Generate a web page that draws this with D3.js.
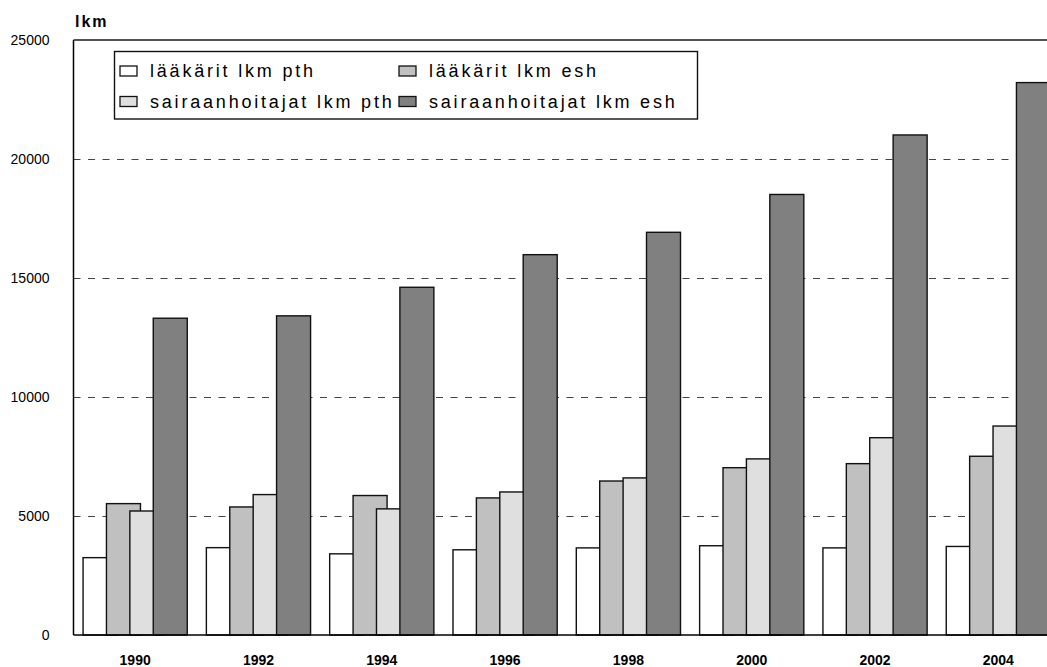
<!DOCTYPE html>
<html>
<head>
<meta charset="utf-8">
<script src="https://cdn.jsdelivr.net/npm/d3@7"></script>
<style>
  body { margin: 0; background: #fff; }
  svg { display: block; font-family: "Liberation Sans", Arial, sans-serif; }
</style>
</head>
<body>
<div id="chart"></div>
<script>
// Data
const years = ['1990', '1992', '1994', '1996', '1998', '2000', '2002', '2004']
const seriesNames = ['lääkärit lkm pth', 'lääkärit lkm esh', 'sairaanhoitajat lkm pth', 'sairaanhoitajat lkm esh']
const laakaritPth = [3250, 3670, 3410, 3580, 3660, 3750, 3660, 3720]
const laakaritEsh = [5520, 5380, 5860, 5760, 6470, 7030, 7200, 7510]
const sairaanhoitajatPth = [5210, 5900, 5300, 6010, 6600, 7400, 8290, 8780]
const sairaanhoitajatEsh = [13310, 13410, 14610, 15980, 16920, 18510, 21010, 23210]
const yTicks = [0, 5000, 10000, 15000, 20000, 25000]

const seriesValues = [laakaritPth, laakaritEsh, sairaanhoitajatPth, sairaanhoitajatEsh]
const colors = ['#ffffff', '#c0c0c0', '#dfdfdf', '#808080']

// Dimensions
const dims = { width: 1047, height: 667, left: 73.5, top: 40, bottom: 635, right: 1060 }

const svg = d3.select('#chart')
  .append('svg')
  .attr('width', dims.width)
  .attr('height', dims.height)

// Scales
const xScale = d3.scaleBand()
  .domain(years)
  .range([dims.left, dims.right])
  .paddingInner(0.155)
  .paddingOuter(0.0775)

const yScale = d3.scaleLinear()
  .domain([0, 25000])
  .range([dims.bottom, dims.top])

const bw = xScale.bandwidth()
const barW = bw * 0.3263
const subScale = d3.scaleLinear().domain([0, 3]).range([0, bw - barW])

// grid lines
svg.append('g')
  .selectAll('line')
  .data(yTicks.filter(d => d > 0 && d < 25000))
  .join('line')
  .attr('x1', dims.left)
  .attr('x2', dims.right)
  .attr('y1', d => Math.round(yScale(d)) + 0.5)
  .attr('y2', d => Math.round(yScale(d)) + 0.5)
  .attr('stroke', '#444')
  .attr('stroke-width', 1)
  .attr('stroke-dasharray', '7,7.5')

// top line (25000)
svg.append('line')
  .attr('x1', dims.left)
  .attr('x2', dims.right)
  .attr('y1', yScale(25000))
  .attr('y2', yScale(25000))
  .attr('stroke', '#1a1a1a')
  .attr('stroke-width', 1.6)

// bars, series by series so later ones sit in front
seriesValues.forEach((vals, si) => {
  svg.append('g')
    .selectAll('rect')
    .data(vals.map((v, i) => ({ year: years[i], value: v })))
    .join('rect')
    .attr('x', d => xScale(d.year) + subScale(si))
    .attr('y', d => yScale(d.value))
    .attr('width', barW)
    .attr('height', d => yScale(0) - yScale(d.value))
    .attr('fill', colors[si])
    .attr('stroke', '#111')
    .attr('stroke-width', 1.4)
})

// axes
const yAxis = d3.axisLeft(yScale)
  .tickValues(yTicks)
  .tickFormat(d3.format('d'))
  .tickSize(0)
  .tickPadding(24)
svg.append('g')
  .attr('transform', `translate(${dims.left}, 0)`)
  .call(yAxis)
  .call(g => g.select('.domain').remove())
  .selectAll('text')
  .attr('font-size', 14)
  .attr('font-family', '"Liberation Sans", Arial, sans-serif')
  .attr('fill', '#000')

const xAxis = d3.axisBottom(xScale).tickSize(0).tickPadding(20)
svg.append('g')
  .attr('transform', `translate(0, ${dims.bottom})`)
  .call(xAxis)
  .call(g => g.select('.domain').remove())
  .selectAll('text')
  .attr('font-size', 14)
  .attr('font-weight', 'bold')
  .attr('font-family', '"Liberation Sans", Arial, sans-serif')
  .attr('fill', '#000')

svg.append('line')
  .attr('x1', dims.left).attr('x2', dims.left)
  .attr('y1', dims.top).attr('y2', dims.bottom)
  .attr('stroke', '#000').attr('stroke-width', 1.5)

svg.append('line')
  .attr('x1', dims.left).attr('x2', dims.right)
  .attr('y1', dims.bottom).attr('y2', dims.bottom)
  .attr('stroke', '#000').attr('stroke-width', 1.6)

// y title
svg.append('text')
  .attr('x', 75)
  .attr('y', 26.5)
  .attr('font-size', 16)
  .attr('font-weight', 'bold')
  .attr('letter-spacing', 2)
  .text('lkm')

// legend
const legend = svg.append('g')
legend.append('rect')
  .attr('x', 114.5).attr('y', 51.5)
  .attr('width', 583).attr('height', 67.5)
  .attr('fill', '#fff')
  .attr('stroke', '#111')
  .attr('stroke-width', 1.4)

const legendPos = [[120, 71], [399, 71], [120, 101.5], [399, 101.5]]
seriesNames.forEach((name, i) => {
  const [lx, ly] = legendPos[i]
  legend.append('rect')
    .attr('x', lx).attr('y', ly - 5)
    .attr('width', 17).attr('height', 10)
    .attr('fill', colors[i])
    .attr('stroke', '#111')
    .attr('stroke-width', 1.3)
  legend.append('text')
    .attr('x', lx + 30)
    .attr('y', ly)
    .attr('dy', '0.35em')
    .attr('font-size', 18)
    .attr('letter-spacing', 2.8)
    .text(name)
})
</script>
</body>
</html>
